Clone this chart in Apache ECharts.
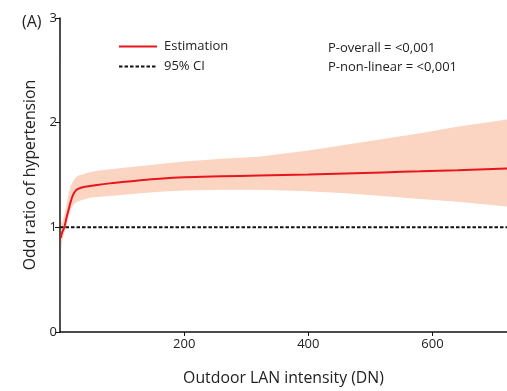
<!DOCTYPE html>
<html>
<head>
<meta charset="utf-8">
<script src="https://cdn.jsdelivr.net/npm/echarts@6/dist/echarts.min.js"></script>
<style>html,body{margin:0;padding:0;background:#fff;overflow:hidden}#c{width:507px;height:391px}</style>
</head>
<body>
<div id="c"></div>
<script>
var xs =       [1.5, 2,    4,    7,    10,   13,   17,   21,   26,    30,   38,    46,    60,    80,   100,   130,   160,   200,   260,   320,   400,   460,   520,   580,   640,   720];
var estimate = [0.9, 0.92, 0.96, 1.0,  1.08, 1.15, 1.24, 1.31, 1.355, 1.37, 1.385, 1.392, 1.405, 1.42, 1.432, 1.45,  1.465, 1.478, 1.487, 1.495, 1.505, 1.515, 1.525, 1.535, 1.546, 1.563];
var upper =    [3.0, 1.05, 1.05, 1.12, 1.2,  1.3,  1.39, 1.44, 1.48,  1.495,1.51,  1.525, 1.54,  1.555,1.566, 1.585, 1.605, 1.63,  1.655, 1.675, 1.735, 1.79,  1.845, 1.9,   1.96,  2.03];
var lower =    [0.0, 0.8,  0.88, 0.95, 1.0,  1.08, 1.16, 1.21, 1.24,  1.25, 1.265, 1.28,  1.29,  1.3,  1.31,  1.325, 1.34,  1.352, 1.358, 1.36,  1.345, 1.325, 1.30,  1.27,  1.245, 1.198];
var refX = [0, 720];
var refY = [1, 1];
var xTicks = [200, 400, 600];
var yTicks = [0, 1, 2, 3];

var font = "'Open Sans', 'Noto Sans', sans-serif";
var txt = '#222';
var chart = echarts.init(document.getElementById('c'), null, {renderer: 'canvas', width: 507, height: 391});
chart.setOption({
  animation: false,
  title: [
    {text: '(A)', left: 17, top: 9, textStyle: {fontFamily: font, fontSize: 16, fontWeight: 'normal', color: txt}},
    {text: 'P-overall = <0,001\nP-non-linear = <0,001', left: 323, top: 34,
     textStyle: {fontFamily: font, fontSize: 13, fontWeight: 'normal', color: txt, lineHeight: 19}}
  ],
  legend: {
    orient: 'vertical', left: 113, top: 35, itemWidth: 38, itemHeight: 12, itemGap: 7,
    data: ['Estimation', '95% CI'],
    itemStyle: {opacity: 0},
    textStyle: {fontFamily: font, fontSize: 13, color: txt, padding: [0, 0, 0, 2]}
  },
  grid: {left: 60, right: 0, top: 18, bottom: 55},
  xAxis: {
    type: 'value', min: 0, max: 720, interval: 200,
    name: 'Outdoor LAN intensity (DN)', nameLocation: 'middle', nameGap: 38,
    nameTextStyle: {fontFamily: font, fontSize: 15.8, color: txt},
    axisLine: {show: true, lineStyle: {color: '#111', width: 1.5}},
    axisTick: {show: true, length: 4, lineStyle: {color: '#111'}},
    axisLabel: {fontFamily: font, fontSize: 13, color: txt, margin: 6, showMinLabel: false, showMaxLabel: false,
      formatter: function (v) { return xTicks.indexOf(v) >= 0 ? String(v) : ''; }},
    splitLine: {show: false}
  },
  yAxis: {
    type: 'value', min: 0, max: 3, interval: 1,
    name: 'Odd ratio of hypertension', nameLocation: 'middle', nameGap: 22,
    nameTextStyle: {fontFamily: font, fontSize: 15.8, color: txt},
    axisLine: {show: true, lineStyle: {color: '#111', width: 1.5}},
    axisTick: {show: true, length: 5, lineStyle: {color: '#111'}},
    axisLabel: {fontFamily: font, fontSize: 13, color: txt, margin: 3,
      formatter: function (v) { return yTicks.indexOf(v) >= 0 ? String(v) : ''; }},
    splitLine: {show: false}
  },
  series: [
    {name: 'band', type: 'custom', silent: true, z: 1,
     data: [0],
     renderItem: function (params, api) {
       var pts = [];
       for (var i = 0; i < xs.length; i++) pts.push(api.coord([xs[i], upper[i]]));
       for (var j = xs.length - 1; j >= 0; j--) pts.push(api.coord([xs[j], lower[j]]));
       return {
         type: 'polygon',
         shape: {points: pts, smooth: 0},
         clipPath: {type: 'rect', shape: {x: params.coordSys.x, y: params.coordSys.y, width: params.coordSys.width, height: params.coordSys.height}},
         style: {fill: '#fbd4c2'}
       };
     }},
    {name: '95% CI', type: 'line', symbol: 'none', color: '#111',
     lineStyle: {color: '#111', width: 2, type: [3.5, 2]},
     data: refX.map(function (x, i) { return [x, refY[i]]; }), z: 3},
    {name: 'Estimation', type: 'line', symbol: 'none', smooth: 0.3, color: '#e8151d',
     lineStyle: {color: '#e8151d', width: 2},
     data: xs.map(function (x, i) { return [x, estimate[i]]; }), z: 4}
  ]
});
</script>
</body>
</html>
